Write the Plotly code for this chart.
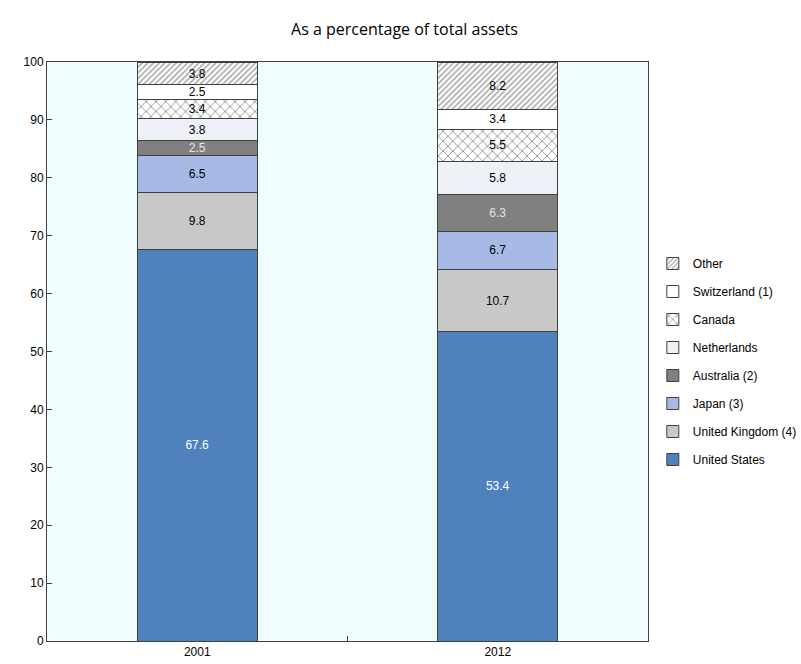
import plotly.graph_objects as go

years = ["2001", "2012"]
series_names = ["United States", "United Kingdom (4)", "Japan (3)", "Australia (2)",
                "Netherlands", "Canada", "Switzerland (1)", "Other"]
united_states = [67.6, 53.4]
united_kingdom = [9.8, 10.7]
japan = [6.5, 6.7]
australia = [2.5, 6.3]
netherlands = [3.8, 5.8]
canada = [3.4, 5.5]
switzerland = [2.5, 3.4]
other = [3.8, 8.2]

values = [united_states, united_kingdom, japan, australia, netherlands, canada, switzerland, other]
colors = ["#4f81bd", "#c8c8c8", "#a7b9e5", "#808080", "#eef0f8", "#ffffff", "#ffffff", "#ffffff"]
text_colors = ["white", "black", "black", "#e6e6e6", "black", "black", "black", "black"]
patterns = [None, None, None, None, None,
            dict(shape="x", fgcolor="#333333", bgcolor="#ffffff", size=7, solidity=0.25),
            None,
            dict(shape="/", fgcolor="#555555", bgcolor="#ffffff", size=4, solidity=0.4)]

fig = go.Figure()
n = len(series_names)
for i, (name, vals) in enumerate(zip(series_names, values)):
    marker = dict(color=colors[i], line=dict(color="#404040", width=1))
    if patterns[i]:
        marker["pattern"] = patterns[i]
    fig.add_trace(go.Bar(
        x=years, y=vals, name=name,
        marker=marker,
        text=[f"{v:.1f}" for v in vals],
        textposition="inside",
        insidetextanchor="middle",
        textfont=dict(color=text_colors[i], size=12, family="Liberation Sans, Arial"),
        constraintext="none",
        width=0.4,
        legendgroup=name,
        legendrank=n - i,
        hoverinfo="skip",
    ))

fig.update_layout(
    barmode="stack",
    width=801, height=664,
    margin=dict(l=47, r=153, t=62, b=23, autoexpand=False),
    paper_bgcolor="white",
    plot_bgcolor="#f0fdff",
    title=dict(text="As a percentage of total assets", x=0.505, xanchor="center",
               y=0.956, yanchor="middle",
               font=dict(family="Open Sans, Liberation Sans", size=16, color="black")),
    font=dict(family="Liberation Sans, Arial", size=12, color="black"),
    uniformtext=dict(minsize=12, mode="show"),
    legend=dict(traceorder="grouped", tracegroupgap=9,
                xref="container", yref="container",
                x=0.815, xanchor="left", y=0.625, yanchor="top",
                font=dict(size=12), itemwidth=30, bgcolor="rgba(0,0,0,0)"),
    showlegend=True,
)
fig.update_yaxes(range=[0, 100], dtick=10, ticks="inside", ticklen=5, tickcolor="#404040",
                 showline=True, linecolor="#404040", mirror=True, showgrid=False,
                 zeroline=False, tickfont=dict(size=12))
fig.update_xaxes(ticks="inside", tickson="boundaries", ticklen=5, tickcolor="#404040",
                 showline=True, linecolor="#404040", mirror=True, showgrid=False,
                 tickfont=dict(size=12))

fig.write_html("out.html")
